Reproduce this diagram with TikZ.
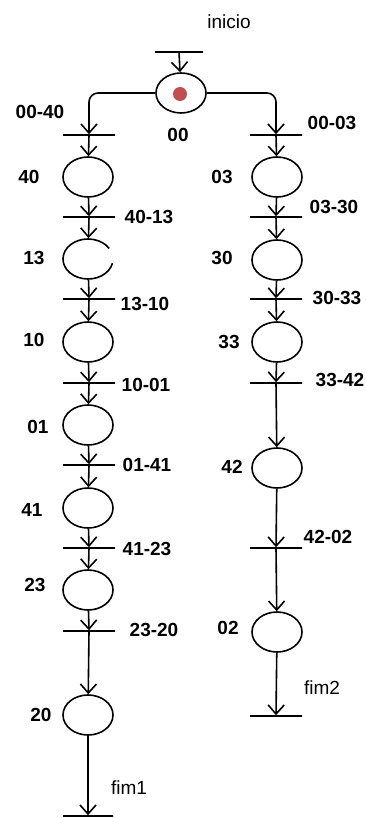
\documentclass[tikz,border=0pt]{standalone}
\usepackage{fontspec}
\setmainfont{Liberation Sans}
\usetikzlibrary{arrows.meta,shapes.geometric}
\definecolor{ficha}{RGB}{192,80,77}
\tikzstyle{lugar} = [draw, ellipse, minimum width=50pt, minimum height=40pt, inner sep=0pt]
\tikzstyle{barra} = [draw, minimum width=52pt, minimum height=0pt, inner sep=0pt]
\tikzstyle{es} = [-{Straight Barb[length=9pt,width=16pt]}]
\tikzstyle{rot} = [font=\fontsize{19}{22}\selectfont\bfseries]
\tikzstyle{txt} = [font=\fontsize{19}{22}\selectfont]

\begin{document}
\begin{tikzpicture}[x=1pt,y=-1pt,line width=1.6pt]
			\useasboundingbox (0,0) rectangle (366,818);
			% lugares
			\node[lugar] (p00) at (181,93) {};
			\node[circle,fill=ficha,minimum size=14pt,inner sep=0pt] (m00) at (180,94) {};
			\node[lugar] (p40) at (88,177) {};
			\node[lugar,draw=none] (p13) at (88,259) {};
			\draw (p13.center) ++(12:25 and 20) arc (12:328:25 and 20);
			\node[lugar] (p10) at (88,342) {};
			\node[lugar] (p01) at (88,425) {};
			\node[lugar] (p41) at (88,508) {};
			\node[lugar] (p23) at (88,590) {};
			\node[lugar] (p20) at (88,715) {};
			\node[lugar] (p03) at (277,177) {};
			\node[lugar] (p30) at (277,260) {};
			\node[lugar] (p33) at (277,342) {};
			\node[lugar] (p42) at (277,468) {};
			\node[lugar] (p02) at (277,632) {};
			% transicoes
			\node[barra,minimum width=48pt] (tini) at (179,52) {};
			\node[barra] (t0040) at (89,135) {};
			\node[barra] (t0003) at (276,135) {};
			\node[barra] (t4013) at (89,217) {};
			\node[barra] (t1310) at (89,299) {};
			\node[barra] (t1001) at (89,383) {};
			\node[barra] (t0141) at (89,465) {};
			\node[barra] (t4123) at (89,548) {};
			\node[barra] (t2320) at (89,631) {};
			\node[barra,minimum width=50pt] (tfim1) at (88,816) {};
			\node[barra] (t0330) at (276,217) {};
			\node[barra] (t3033) at (276,299) {};
			\node[barra] (t3342) at (276,383) {};
			\node[barra] (t4202) at (276,548) {};
			\node[barra] (tfim2) at (276,716) {};
			% arcos
			\draw [es] (tini) -- (p00);
			\draw [es,rounded corners=9pt] (p00.west) -| (t0040);
			\draw [es,rounded corners=9pt] (p00.east) -| (t0003);
			\draw [es] (t0040) -- (p40);
			\draw [es] (p40) -- (t4013);
			\draw [es] (t4013) -- (p13);
			\draw [es] (p13) -- (t1310);
			\draw [es] (t1310) -- (p10);
			\draw [es] (p10) -- (t1001);
			\draw [es] (t1001) -- (p01);
			\draw [es] (p01) -- (t0141);
			\draw [es] (t0141) -- (p41);
			\draw [es] (p41) -- (t4123);
			\draw [es] (t4123) -- (p23);
			\draw [es] (p23) -- (t2320);
			\draw [es] (t2320) -- (p20);
			\draw [es] (p20) -- (tfim1);
			\draw [es] (t0003) -- (p03);
			\draw [es] (p03) -- (t0330);
			\draw [es] (t0330) -- (p30);
			\draw [es] (p30) -- (t3033);
			\draw [es] (t3033) -- (p33);
			\draw [es] (p33) -- (t3342);
			\draw [es] (t3342) -- (p42);
			\draw [es] (p42) -- (t4202);
			\draw [es] (t4202) -- (p02);
			\draw [es] (p02) -- (tfim2);
			% rotulos
			\node[txt] (lini) at (229,22) {inicio};
			\node[rot] (l00) at (178,135) {00};
			\node[rot] (l0040) at (40,112) {00-40};
			\node[rot] (l0003) at (332,123) {00-03};
			\node[rot] (l40) at (29,177) {40};
			\node[rot] (l03) at (222,177) {03};
			\node[rot] (l4013) at (149,217) {40-13};
			\node[rot] (l0330) at (334,207) {03-30};
			\node[rot] (l13) at (34,258) {13};
			\node[rot] (l30) at (222,258) {30};
			\node[rot] (l1310) at (145,304) {13-10};
			\node[rot] (l3033) at (337,298) {30-33};
			\node[rot] (l10) at (34,340) {10};
			\node[rot] (l33) at (229,342) {33};
			\node[rot] (l1001) at (146,385) {10-01};
			\node[rot] (l3342) at (340,380) {33-42};
			\node[rot] (l01) at (38,427) {01};
			\node[rot] (l0141) at (147,465) {01-41};
			\node[rot] (l42) at (232,467) {42};
			\node[rot] (l41) at (32,510) {41};
			\node[rot] (l4123) at (147,549) {41-23};
			\node[rot] (l4202) at (328,537) {42-02};
			\node[rot] (l23) at (35,585) {23};
			\node[rot] (l2320) at (154,630) {23-20};
			\node[rot] (l02) at (228,628) {02};
			\node[txt] (lfim2) at (322,688) {fim2};
			\node[rot] (l20) at (41,715) {20};
			\node[txt] (lfim1) at (129,788) {fim1};
		\end{tikzpicture}
\end{document}
